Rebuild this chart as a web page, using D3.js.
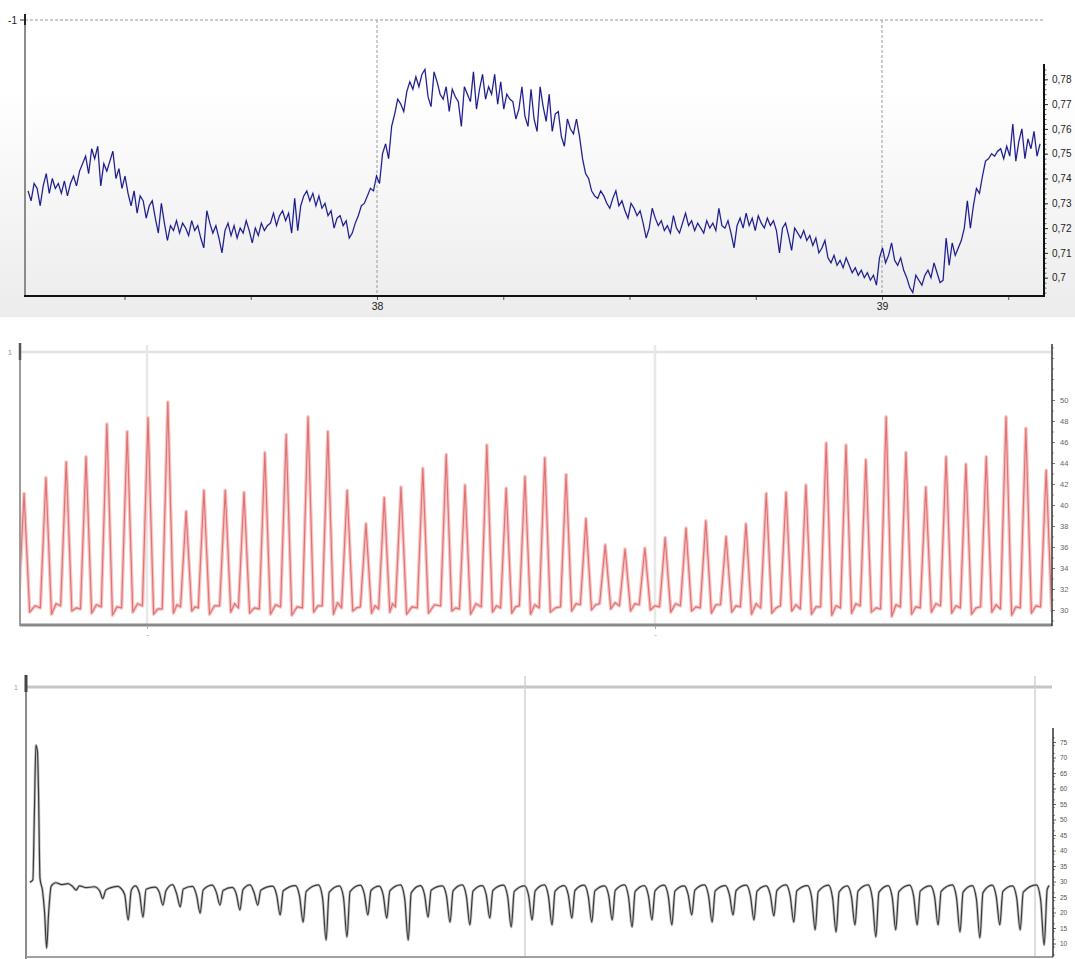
<!DOCTYPE html>
<html><head><meta charset="utf-8">
<script src="https://cdn.jsdelivr.net/npm/d3@7"></script>
<style>
body{margin:0;background:#fff}
svg{display:block}
</style>
</head><body>
<svg id="c" width="1075" height="959"></svg>
<script>
// ---------- DATA ----------
// Panel 1 (blue signal) : uniform samples
const topStart = 37.309;     // time of first sample
const topStep = 0.006;       // sample interval
const topValues = [
.735,.731,.738,.736,.729,.737,.742,.734,.740,.736,
.738,.734,.739,.733,.738,.741,.737,.743,.746,.749,
.742,.752,.748,.753,.737,.746,.743,.747,.751,.740,
.744,.736,.741,.734,.729,.735,.726,.733,.731,.724,
.729,.731,.724,.718,.730,.722,.715,.721,.719,.723,
.718,.722,.720,.717,.723,.719,.721,.716,.712,.727,
.722,.718,.721,.716,.710,.719,.722,.717,.721,.716,
.720,.718,.723,.719,.714,.720,.717,.722,.719,.721,
.722,.726,.721,.725,.727,.723,.726,.718,.732,.719,
.729,.733,.735,.731,.734,.729,.733,.728,.730,.725,
.727,.720,.724,.725,.721,.723,.716,.718,.722,.725,
.729,.730,.733,.736,.735,.741,.738,.750,.754,.748,
.761,.766,.772,.770,.767,.775,.779,.776,.781,.777,
.782,.784,.773,.769,.783,.779,.774,.772,.777,.767,
.776,.773,.771,.761,.777,.774,.771,.783,.768,.776,
.782,.772,.777,.774,.782,.770,.779,.768,.774,.772,
.771,.764,.768,.777,.765,.761,.776,.764,.759,.777,
.769,.763,.774,.759,.766,.767,.757,.753,.764,.760,
.758,.764,.757,.748,.742,.740,.735,.733,.732,.735,
.733,.730,.728,.732,.735,.729,.731,.727,.724,.730,
.728,.725,.727,.722,.716,.720,.728,.724,.721,.723,
.719,.721,.718,.725,.720,.718,.722,.726,.721,.723,
.719,.722,.720,.718,.723,.720,.722,.719,.728,.721,
.720,.723,.718,.712,.721,.724,.720,.726,.721,.724,
.719,.725,.722,.720,.724,.721,.723,.719,.710,.720,
.722,.717,.711,.720,.718,.716,.719,.715,.717,.713,
.716,.710,.712,.715,.708,.706,.709,.705,.707,.704,
.708,.705,.702,.704,.701,.703,.700,.702,.699,.701,
.697,.708,.712,.706,.709,.714,.707,.705,.708,.703,
.700,.696,.694,.701,.699,.697,.701,.703,.700,.706,
.702,.698,.699,.716,.705,.714,.709,.712,.715,.720,
.731,.720,.729,.736,.734,.741,.747,.748,.750,.749,
.751,.752,.748,.753,.749,.762,.747,.755,.760,.748,.756,.752,.759,.749,.754
];
const topXLabels = [38, 39];
const topXTicks = [37.5, 37.75, 38, 38.25, 38.5, 38.75, 39, 39.25];
const topYLabels = [0.70, 0.71, 0.72, 0.73, 0.74, 0.75, 0.76, 0.77, 0.78];

// Panel 2 (red pulses)
const midPeakTimes = [0.758,0.801,0.841,0.880,0.921,0.961,1.002,1.041,1.077,1.112,
1.154,1.191,1.232,1.274,1.317,1.356,1.394,1.431,1.467,1.500,
1.543,1.589,1.626,1.669,1.707,1.744,1.783,1.825,1.864,1.902,
1.941,1.980,2.020,2.061,2.100,2.140,2.179,2.219,2.258,2.297,
2.337,2.376,2.415,2.455,2.494,2.533,2.573,2.612,2.652,2.691,
2.730,2.770];
const midPeakValues = [41.1,42.6,44.1,44.6,47.7,47.0,48.3,49.8,39.4,41.4,
41.4,41.2,45.0,46.7,48.4,47.0,41.4,38.2,40.7,41.7,
43.5,44.8,41.9,45.7,41.6,42.7,44.5,42.9,38.7,36.2,
35.8,35.9,36.9,37.8,38.5,37.0,38.2,41.1,41.2,41.9,
45.9,45.7,44.3,48.4,45.0,41.7,44.6,43.9,44.6,48.4,
47.3,43.3];
const midFootLeft = [30.3,30.2,30.4,30.1,30.3,30.2,30.4,30.1,30.3,30.2,
30.4,30.2,30.1,30.3,30.2,30.4,30.2,30.3,30.1,30.3,
30.2,30.4,30.1,30.3,30.2,30.4,30.2,30.3,30.5,30.6,
30.4,30.5,30.3,30.4,30.2,30.5,30.3,30.2,30.4,30.1,
30.3,30.2,30.4,30.1,30.3,30.2,30.4,30.2,30.3,30.1,
30.2,30.3];
const midFootRight = [29.8,29.6,29.9,29.7,29.5,29.8,29.6,29.7,29.9,29.6,
29.8,29.7,29.6,29.5,29.8,29.6,29.9,29.7,29.8,29.6,
29.7,29.9,29.6,29.8,29.7,29.6,29.8,29.9,30.0,30.1,
29.9,30.0,29.8,29.9,29.7,29.8,29.6,29.7,29.9,29.6,
29.5,29.7,29.8,29.4,29.6,29.8,29.7,29.6,29.8,29.5,
29.7,29.8];
const midGapValues = [30.4,30.6,30.2,30.5,30.3,30.6,30.1,30.5,30.3,30.4,
30.6,30.2,30.5,30.3,30.4,30.7,30.2,30.4,30.6,30.3,
30.5,30.2,30.6,30.4,30.3,30.5,30.2,30.6,30.5,30.7,
30.6,30.4,30.6,30.3,30.5,30.4,30.6,30.2,30.5,30.3,
30.4,30.6,30.2,30.5,30.3,30.6,30.4,30.2,30.5,30.3,
30.4];
const midYLabels = [30,32,34,36,38,40,42,44,46,48,50];
const midXTicks = [1, 2];

// Panel 3 (grey signal)
const botHeadTimes  = [0.029,0.035,0.038,0.041,0.044,0.046,0.049,0.054,0.058,0.062,0.066,0.071,0.080,0.092,0.104,0.113,0.120,0.126,0.140,0.155,0.166,0.172,0.178,0.190,0.202];
const botHeadValues = [29.8,30.5,52.0,74.0,72.0,60.0,31.0,27.0,20.0,8.5,20.0,28.5,29.6,29.0,29.3,28.4,27.2,28.6,28.0,28.3,27.0,24.5,27.2,28.1,28.4];
const botDipTimes = [0.222,0.251,0.290,0.324,0.363,0.402,0.441,0.476,0.520,0.565,
0.610,0.651,0.692,0.729,0.771,0.810,0.853,0.892,0.931,0.973,
1.014,1.053,1.092,1.131,1.171,1.210,1.249,1.288,1.327,1.367,
1.408,1.449,1.488,1.527,1.569,1.610,1.647,1.688,1.727,1.769,
1.810,1.853,1.892,1.931,1.971,2.018];
const botDipValues = [17.6,18.5,22.4,21.8,19.8,22.4,20.8,22.4,19.2,16.9,
11.1,12.1,19.2,18.2,11.1,18.5,16.9,16.0,18.2,15.3,
17.6,16.0,18.2,16.9,17.6,15.3,17.6,16.0,19.2,16.9,
19.2,17.6,18.9,16.9,14.4,13.7,16.0,12.1,14.4,16.0,
16.0,13.7,11.8,16.0,14.4,9.5];
const botArchValues = [27.9,28.6,28.2,29.0,28.4,28.8,28.1,28.9,28.5,28.7,
28.9,28.6,28.8,28.5,28.9,28.7,28.6,28.9,28.7,28.8,
28.6,28.9,28.7,28.8,28.6,28.9,28.7,28.8,28.6,28.9,
28.7,28.8,28.6,28.9,28.7,28.8,28.6,28.9,28.7,28.8,
28.6,28.9,28.7,28.8,28.6,28.9];
const botShoulderValues = [25.8,26.2,26.5,26.0,25.5,26.4,25.9,26.3,25.7,25.2,
24.8,25.0,25.9,25.6,24.6,25.8,25.4,25.3,25.7,25.1,
25.5,25.2,25.6,25.3,25.5,25.0,25.4,25.2,25.7,25.3,
25.6,25.4,25.7,25.3,24.9,24.8,25.2,24.6,25.0,25.3,
25.2,24.9,24.5,25.1,24.8,24.2];
const botRecoverValues = [27.2,27.5,27.0,27.6,27.3,27.1,27.4,27.2,27.0,26.8,
26.5,26.7,27.1,27.0,26.4,27.2,27.0,26.9,27.1,26.8,
27.0,26.9,27.1,27.0,27.1,26.8,27.0,26.9,27.2,27.0,
27.1,26.9,27.1,27.0,26.7,26.6,26.9,26.5,26.7,26.9,
26.8,26.6,26.4,26.8,26.6,27.5];
const botTailTimes = [2.028];
const botTailValues = [28.7];
const botYLabels = [10,15,20,25,30,35,40,45,50,55,60,65,70,75];
const botXTicks = [1, 2];

// ---------- DRAW ----------
const FONT = "'Liberation Sans', Arial, sans-serif";
const svg = d3.select('#c');
const defs = svg.append('defs');

const grad = defs.append('linearGradient').attr('id','bg1').attr('x1',0).attr('y1',0).attr('x2',0).attr('y2',1);
grad.append('stop').attr('offset','0%').attr('stop-color','#ffffff');
grad.append('stop').attr('offset','28%').attr('stop-color','#ffffff');
grad.append('stop').attr('offset','100%').attr('stop-color','#ececec');

function clip(id, x, y, w, h){
  defs.append('clipPath').attr('id', id).append('rect').attr('x',x).attr('y',y).attr('width',w).attr('height',h);
}
function line(x1,y1,x2,y2,stroke,w,dash){
  const l = svg.append('line').attr('x1',x1).attr('y1',y1).attr('x2',x2).attr('y2',y2)
    .attr('stroke',stroke).attr('stroke-width',w);
  if (dash) l.attr('stroke-dasharray', dash);
  return l;
}
function styleAxis(g, tickColor, size, fill){
  g.select('.domain').remove();
  g.attr('font-family', FONT).attr('font-size', size);
  g.selectAll('.tick line').attr('stroke', tickColor);
  g.selectAll('.tick text').attr('fill', fill);
}

// ===== Panel 1 =====
svg.append('rect').attr('x',0).attr('y',0).attr('width',1075).attr('height',317).attr('fill','url(#bg1)');
const x1 = d3.scaleLinear().domain([38, 39]).range([377, 882]);
const y1 = d3.scaleLinear().domain([0.70, 0.78]).range([277.7, 79.3]);

line(25, 20, 1044, 20, '#9a9a9a', 1, '3,2');
line(20, 20, 25, 20, '#333', 1);
svg.append('text').attr('x', 17).attr('y', 24).attr('text-anchor','end')
  .attr('font-family', FONT).attr('font-size', 10).attr('fill','#222').text('-1');
topXLabels.forEach(t => line(x1(t), 20, x1(t), 296, '#9a9a9a', 1, '3,2'));
line(25, 14, 25, 297, '#8c8c8c', 2);
line(25, 14, 25, 25, '#222', 2);

clip('cp1', 26, 21, 1017, 274);
const topLine = d3.line().x((d,i) => x1(topStart + i*topStep)).y(d => y1(d));
svg.append('path').datum(topValues).attr('clip-path','url(#cp1)')
  .attr('d', topLine).attr('fill','none').attr('stroke','#8f8fc8').attr('stroke-width',1.8).attr('opacity',0.45);
svg.append('path').datum(topValues).attr('clip-path','url(#cp1)')
  .attr('d', topLine).attr('fill','none').attr('stroke','#16168a').attr('stroke-width',1.05);

const gx1 = svg.append('g').attr('transform','translate(0,296)')
  .call(d3.axisBottom(x1).tickValues(topXTicks).tickSize(4).tickPadding(3)
    .tickFormat(d => Number.isInteger(d) ? String(d) : ''));
styleAxis(gx1, '#555', 10.5, '#222');
line(24, 296, 1045, 296, '#111', 2);

const fmt1 = d => d3.format('.2f')(d).replace('.', ',').replace(/0$/, '');
const minor1 = d3.range(347, 393).map(k => k / 500);
const gm1 = svg.append('g').attr('transform','translate(1044,0)')
  .call(d3.axisRight(y1).tickValues(minor1).tickSize(2.5).tickFormat(''));
styleAxis(gm1, '#666', 10, '#222');
const gy1 = svg.append('g').attr('transform','translate(1044,0)')
  .call(d3.axisRight(y1).tickValues(topYLabels).tickSize(4).tickPadding(4).tickFormat(fmt1));
styleAxis(gy1, '#333', 10, '#222');
line(1044, 64, 1044, 297, '#111', 2);

// ===== Panel 2 =====
const x2 = d3.scaleLinear().domain([1, 2]).range([147, 655]);
const y2 = d3.scaleLinear().domain([30, 50]).range([610, 400]);
line(20, 352, 1052, 352, '#e3e3e3', 2.5);
midXTicks.forEach(t => line(x2(t), 345, x2(t), 625, '#e8e8e8', 2.5));
line(20, 343, 20, 626, '#9c9c9c', 2);
line(20, 343, 20, 360, '#555', 2.5);
svg.append('text').attr('x', 12).attr('y', 355).attr('text-anchor','end')
  .attr('font-family', FONT).attr('font-size', 7).attr('fill','#888').text('1');

clip('cp2', 21, 345, 1030, 279);
const halfW = 0.011;
const midPts = [];
const nMid = midPeakTimes.length;
for (let i = 0; i < nMid; i++) {
  const t = midPeakTimes[i];
  midPts.push([t - halfW, midFootLeft[i]]);
  midPts.push([t, midPeakValues[i]]);
  midPts.push([t + halfW, midFootRight[i]]);
  if (i < nMid - 1) midPts.push([(t + midPeakTimes[i+1]) / 2, midGapValues[i]]);
}
const midLine = d3.line().x(d => x2(d[0])).y(d => y2(d[1]));
svg.append('path').datum(midPts).attr('clip-path','url(#cp2)')
  .attr('d', midLine).attr('fill','none').attr('stroke','#f7c6c6').attr('stroke-width',3.6).attr('stroke-linejoin','round');
svg.append('path').datum(midPts).attr('clip-path','url(#cp2)')
  .attr('d', midLine).attr('fill','none').attr('stroke','#e07272').attr('stroke-width',1.2).attr('stroke-linejoin','round');

line(20, 625, 1052, 625, '#8a8a8a', 3);
const gx2 = svg.append('g').attr('transform','translate(0,626)')
  .call(d3.axisBottom(x2).tickValues(midXTicks).tickSize(3).tickPadding(2).tickFormat(() => '-'));
styleAxis(gx2, '#aaa', 8, '#999');
const minor2 = d3.range(29, 56);
const gm2 = svg.append('g').attr('transform','translate(1052,0)')
  .call(d3.axisRight(y2).tickValues(minor2).tickSize(2).tickFormat(''));
styleAxis(gm2, '#999', 8, '#666');
const gy2 = svg.append('g').attr('transform','translate(1052,0)')
  .call(d3.axisRight(y2).tickValues(midYLabels).tickSize(3).tickPadding(5).tickFormat(d3.format('d')));
styleAxis(gy2, '#777', 7.5, '#666');
line(1052, 344, 1052, 626, '#333', 1.5);

// ===== Panel 3 =====
const x3 = d3.scaleLinear().domain([1, 2]).range([525, 1035]);
const y3 = d3.scaleLinear().domain([10, 75]).range([943.5, 742]);
line(26, 687, 1052, 687, '#c6c6c6', 3);
botXTicks.forEach(t => line(x3(t), 676, x3(t), 957, '#d2d2d2', 1.5));
line(26, 675, 26, 959, '#8c8c8c', 2);
line(26, 675, 26, 692, '#444', 3);
svg.append('text').attr('x', 18).attr('y', 690).attr('text-anchor','end')
  .attr('font-family', FONT).attr('font-size', 7).attr('fill','#999').text('1');
line(26, 957, 1053, 957, '#a0a0a0', 2);

clip('cp3', 27, 688, 1025, 268);
const botPts = [];
botHeadTimes.forEach((t, i) => botPts.push([t, botHeadValues[i]]));
botDipTimes.forEach((t, i) => {
  botPts.push([t - 0.015, botArchValues[i]]);
  botPts.push([t - 0.007, botShoulderValues[i]]);
  botPts.push([t, botDipValues[i]]);
  botPts.push([t + 0.006, botRecoverValues[i]]);
});
botTailTimes.forEach((t, i) => botPts.push([t, botTailValues[i]]));
const botLine = d3.line().curve(d3.curveMonotoneX).x(d => x3(d[0])).y(d => y3(d[1]));
svg.append('path').datum(botPts).attr('clip-path','url(#cp3)')
  .attr('d', botLine).attr('fill','none').attr('stroke','#c8c8c8').attr('stroke-width',2.8);
svg.append('path').datum(botPts).attr('clip-path','url(#cp3)')
  .attr('d', botLine).attr('fill','none').attr('stroke','#3a3a3a').attr('stroke-width',1.2);

const minor3 = d3.range(4, 79, 2.5);
const gm3 = svg.append('g').attr('transform','translate(1053,0)')
  .call(d3.axisRight(y3).tickValues(minor3.filter(v => y3(v) > 728 && y3(v) < 957)).tickSize(2).tickFormat(''));
styleAxis(gm3, '#888', 7, '#666');
const gy3 = svg.append('g').attr('transform','translate(1053,0)')
  .call(d3.axisRight(y3).tickValues(botYLabels).tickSize(3).tickPadding(4).tickFormat(d3.format('d')));
styleAxis(gy3, '#666', 6.5, '#555');
line(1053, 728, 1053, 957, '#333', 1.5);
</script>
</body></html>
